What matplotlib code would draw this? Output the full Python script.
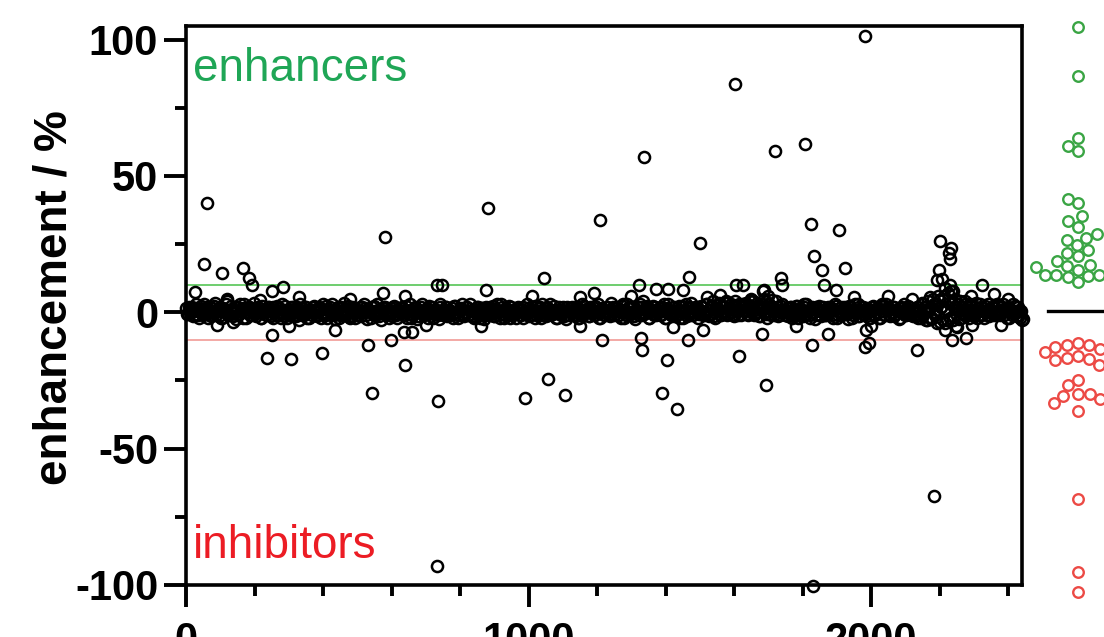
import numpy as np
import matplotlib
matplotlib.use('Agg')
import matplotlib.pyplot as plt

plt.rcParams['font.family'] = ['Liberation Sans', 'DejaVu Sans']
plt.rcParams['axes.unicode_minus'] = False

# screen band: enhancement of compounds 0, 5, 10, ... (most sit near zero)
band_step = 5
band_y = [
    1.5, -0.5, 2, 0.5, -1.5, 1, 3, -1, 0, 2.5, -1, 1, 0, -2, 2, 1.5, -1, 3.5, 0.5, -1.5, 2, -2, 1, 0, 4,
    -1, 2.5, 0, 1, -2.5, 2, -0.5, 0.5, 1.5, 3, -2, 0, 2, -1, 1, 0, -1.5, 2, 4.5, -2, 1, 0.5, -1, 2, 1,
    0, -2, 1, 2.5, -1, 0, 3, -1.5, 1, -2, 0.5, 2, 1, -1, 0, 2, -3, 1.5, 0, -1, 2, 1, -2, 0, 1,
    2, -1, 0.5, 1.5, -2, 3, 0, -1, 1, 2, -0.5, 0, -2.5, 1, 2, -1, 0.5, 3.5, -1, 0, 1.5, -2, 2, 0, -1,
    1, 0, -1.5, 2, 3, -1, 0.5, 1, -2, 0, 2.5, -1, 1, 0, -3, 1.5, 2, -0.5, 0, 1, -1.5, 2, 0.5, -2, 1,
    0, 2, -1, 1, -2, 0.5, 3, -1, 0, 1.5, -2.5, 1, 2, 0, -1, 1, -0.5, 2.5, 0, -2, 1, 0.5, -1, 3, 0,
    -1, 1, 2, -0.5, 0, 1.5, -2, 2.5, 0, -1, 1, 3, -1.5, 0, 2, -1, 0.5, 1, -2, 0, 2, -1, 1.5, 0, -2.5,
    2, 0, -1, 1, 2.5, -1.5, 0, 1, -2, 3, 0.5, -1, 1.5, 0, -2, 2, 1, -0.5, 0, 2, -1, 1, -2, 0.5, 3,
    0, -1, 2, 1, -2, 0.5, 1.5, -1, 3, 0, -1.5, 2, 1, -0.5, 0, 2.5, -2, 1, 0, -1, 2, 0.5, -2.5, 1, 0,
    1.5, -1, 0, 2, -2, 1, 3, -0.5, 0, 1, -1.5, 2, 0.5, -1, 2.5, 0, -2, 1, 1.5, -1, 0, 2, -1, 3.5, 0,
    -1, 2, 0.5, 1, -2, 3, 0, -1, 1.5, 2, -0.5, 0, -2.5, 1, 2, 3, -1, 0, 1, 2.5, -2, 0.5, 1, -1, 2,
    0, 1.5, -1, 2, 3, -2, 0.5, 1, -1, 0, 2, -1.5, 1, 2.5, 0, -2, 1, 3, -0.5, 0, 1.5, -1, 2, 0, -2,
    1, 2, -1, 0, 3, -1.5, 1, 2.5, 0, -2, 1.5, 3.5, -1, 0.5, 2, 4, -1, 1, 3, 0, -1.5, 2.5, 1, 3, -1,
    2, 0.5, 3.5, -1, 1, 2, 4, -0.5, 0, 2.5, -1.5, 1, 3, 0, -2, 1.5, 2, 4.5, -1, 0.5, 2, -1, 1, 3, 0,
    -1, 1.5, 0, 2, -2, 1, 2.5, -0.5, 0, 1, -1.5, 2, 3, 0.5, -1, 0, 1.5, -2.5, 2, 1, -1, 0, 2, -1, 1,
    0.5, 2, -1, 1, 3, -2, 0, 1.5, -1, 2, 0, -0.5, 2.5, 1, -2, 0, 1, 3, -1.5, 0.5, 2, -1, 1, 0, -2,
    1, 2.5, -1, 0, 1.5, -2, 3, 0.5, -1, 1, 2, -1.5, 0, 2, -0.5, 1, -2.5, 1.5, 0, 3, -1, 0.5, 2, -1, 1,
    0, -1.5, 2, 1, -2, 3, 0.5, -3, 4, 1, -2.5, 5, -1, 3, 6, -3.5, 2, 4.5, -4, 1, 7, -2, 3.5, -3, 5,
    2, -2.5, 4, 1, -1, 3, 0, -2, 2.5, 1, -1.5, 3.5, 0, -1, 2, 1.5, -2, 0.5, 3, -1, 1, 2, -0.5, 0, 2.5,
    -1, 1, 3, 0.5, -2, 2, 1, -1, 0, 2.5, -1.5, 1, -2, -3,
]
# compounds 2.5, 7.5, 12.5, ... (the ones in between)
band_y2 = [
    -0.5, 1, 0, 2, -1, 0.5, 1.5, -2, 1, 0, 3, -0.5, 2, 1, -1.5, 0, 2.5, -1, 1, 0.5, -2, 1.5, 0, 3, -1,
    1, 0, -1.5, 2, 0.5, -1, 3, 1, -2, 0, 1.5, 2, -1, 0.5, 3.5, -0.5, 1, 0, -2, 2.5, 0, -1, 1, 2, -1.5,
    2, 0.5, -1, 0, 1.5, -2, 1, 2.5, 0, -1, 1, -0.5, 2, 0, -1.5, 1, 3, -1, 0.5, 2, -2, 0, 1, -1, 2.5,
    0, -1.5, 2, 1, -0.5, 0, 2.5, -2, 1, 0.5, 3, -1, 0, 1.5, -2, 2, 0, -1, 1, 2.5, -1.5, 0.5, 1, -2, 0,
    -1, 2, 0.5, 0, 1.5, -2.5, 1, 0, 2, -1, 0.5, 3, -1.5, 0, 1, 2, -1, 0.5, -2, 1.5, 0, 2.5, -1, 1, 0,
    1.5, -1, 0, 2.5, -0.5, 1, -2, 0, 2, 1, -1.5, 0.5, 3, -1, 0, 1.5, -2, 1, 2, -0.5, 0, 1, -2.5, 2, 0.5,
    0, 2, -1.5, 1, 0.5, -1, 2.5, 0, -2, 1, 1.5, -0.5, 0, 2, -1, 3, 0.5, -1.5, 1, 0, 2, -2, 0.5, 1.5, -1,
    1, -0.5, 2, 0, -1.5, 1, 3, -1, 0.5, 2, -2, 0, 1, 2.5, -1, 0.5, 0, -2, 1.5, 1, -1, 2, 0, -0.5, 1.5,
    -1.5, 1, 0.5, 2.5, -1, 0, 2, -2, 1, 0, 1.5, -1, 3, 0.5, -0.5, 1, -2, 2, 0, 1, -1.5, 0.5, 2, -1, 0,
    2, -1, 0.5, 1, -2, 0, 2.5, -0.5, 1, 1.5, -1.5, 0, 2, -1, 0.5, 3, -2, 1, 0, -1, 2, 0.5, -1.5, 1, 2,
    0.5, 1.5, -1, 0, 2.5, -2, 1, 3, -0.5, 0, 2, -1.5, 1, 0.5, -1, 2, 4, -0.5, 1.5, 0, -2, 1, 2.5, 0, -1,
    1, -1, 2, 0.5, -2, 1.5, 3, 0, -1, 2, 0.5, -0.5, 1, -2, 2.5, 0, 1, -1.5, 2, 3.5, -1, 0, 1, 2, -0.5,
    2.5, 0, -1, 3, 1, -0.5, 2, 4, -1.5, 1, 0.5, 3, -1, 2, 0, 3.5, -0.5, 1.5, 2.5, -1, 4, 0.5, -1, 2, 3,
    1, 3, -0.5, 2, 4, 0, -1, 2.5, 3.5, -1.5, 1, 2, 5, -0.5, 0.5, 3, -1, 2, 1, 4, -1.5, 0, 2.5, 1, -1,
    0.5, -1.5, 2, 1, -0.5, 0, 2.5, -2, 1.5, 0, 3, -1, 0.5, 1, -2, 2, 0, -1, 1.5, 2.5, -1.5, 0.5, 1, -1, 2,
    0, 1.5, -2, 1, 2.5, -1, 0.5, 2, -0.5, 0, 1, -2.5, 2, 1, -1, 3, 0, -1.5, 1, 2, -0.5, 0, 1.5, -2, 1,
    2, -1, 0, 1.5, -2, 2.5, 0.5, -1, 3, 1, -0.5, 0, 2, -1.5, 1, 0.5, -2, 2, 1.5, -1, 0, 2.5, -0.5, 1, -1.5,
    1, 2, -2, 0.5, 3.5, -1, 2, -3, 1.5, 5.5, -2, 3, 0, -4, 4.5, 2, -2.5, 6, 1, -3, 3.5, 8, -1.5, 2, -5,
    3, 0.5, -2, 2, 4, -1, 1, 3, -0.5, 0, 2, -2, 1.5, 3, -1, 0.5, 2.5, 0, -1.5, 1, 2, -1, 0, 3, 0.5,
    0, 2, -1, 1.5, 0.5, -2, 1, 3, -0.5, 0, 2, -1, 0.5, -2.5,
]

# individual compounds away from the band (index, enhancement %)
hit_x = [26, 53, 60, 104, 167, 185, 194, 251, 284, 575, 581, 734, 746, 877, 881,
         1046, 1149, 1192, 1207, 1323, 1338, 1372, 1406, 1450, 1469, 1501, 1603, 1605,
         1625, 1683, 1688, 1718, 1736, 1739, 1807, 1824, 1834, 1856, 1863, 1897, 1907,
         1922, 1982, 2193, 2198, 2202, 2206, 2215, 2227, 2229, 2230, 2233, 2240, 2324, 2358,
         120, 330, 480, 640, 1010, 1300, 1520, 1560, 1650, 1700, 1950, 2050, 2120, 2290, 2400,
         137, 236, 251, 307, 396, 434, 531, 543, 597, 635, 639, 661, 732, 735, 989,
         1056, 1105, 1215, 1329, 1332, 1388, 1405, 1434, 1466, 1509, 1615, 1681, 1692,
         1827, 1830, 1875, 1982, 1984, 1994, 2133, 2182, 2215, 2235, 2278, 2294,
         90, 300, 700, 860, 1150, 1420, 1780, 2000, 2250, 2380]
hit_y = [7.3, 17.9, 40.1, 14.6, 16.1, 12.7, 10, 7.7, 9.3, 7, 27.6, 10, 10, 8.3, 38.4,
         12.7, 5.6, 7, 34, 9.9, 57, 8.7, 8.7, 8.3, 13, 25.4, 83.9, 9.9,
         10, 8, 8.3, 59, 12.7, 9.9, 61.9, 32.3, 20.7, 15.4, 10, 8.3, 30.1,
         16.4, 101.3, 12, 15.7, 26.2, 12.4, 9, 21.8, 19.6, 10, 23.7, 8, 10.2, 6.9,
         5, 5.5, 5, 6, 6, 6, 5.5, 6.5, 5, 6, 5.5, 6, 5, 6, 5,
         -3.5, -16.9, -8.3, -17.1, -14.8, -6.6, -12.1, -29.6, -10, -7.2, -19.2, -7.2, -93.2, -32.7, -31.6,
         -24.5, -30.2, -10, -9.3, -13.7, -29.6, -17.6, -35.6, -10, -6.6, -16.1, -8.1, -26.5,
         -12.1, -100.5, -7.8, -12.7, -6.6, -11.3, -13.9, -67.3, -6.6, -10, -9.3, -4.5,
         -4.5, -5, -4.5, -5, -5, -5.5, -5, -5, -5.5, -4.5]

cutoff = 10

band_x = np.arange(len(band_y)) * band_step
band_x2 = np.arange(len(band_y2)) * band_step + band_step / 2
all_y = np.concatenate([band_y, band_y2, hit_y])
enh = np.sort(all_y[all_y > cutoff])
inh = np.sort(all_y[all_y < -cutoff])[::-1]


def swarm_offsets(vals, scale, d):
    # simple beeswarm in pixel units, points closest to zero go first
    placed = []
    offs = np.zeros(len(vals))
    for i in np.argsort(np.abs(vals), kind='stable'):
        yi = vals[i] * scale
        cands = [0.0]
        for xj, yj in placed:
            dy = yi - yj
            if abs(dy) < d:
                dx = np.sqrt(d * d - dy * dy)
                cands += [xj - dx, xj + dx]
        cands.sort(key=abs)
        for c in cands:
            if all((c - xj) ** 2 + (yi - yj) ** 2 >= d * d - 1e-6 for xj, yj in placed):
                offs[i] = c
                break
        placed.append((offs[i], yi))
    return offs


fig = plt.figure(figsize=(11.04, 6.37), dpi=100)
W, H = 1104, 637
ax = fig.add_axes([186 / W, 52 / H, 836 / W, 559 / H])

ax.axhline(cutoff, color='#62c962', lw=1.3, zorder=1)
ax.axhline(-cutoff, color='#f2a39e', lw=1.3, zorder=1)

mk = dict(ls='none', marker='o', mfc='none', mec='black', ms=8, mew=1.8, clip_on=False, zorder=3)
ax.plot(band_x, band_y, **mk)
ax.plot(band_x2, band_y2, **mk)
ax.plot(hit_x, hit_y, **mk)

ax.set_xlim(0, 2440)
ax.set_ylim(-100, 105)
ax.set_xticks([0, 1000, 2000])
ax.set_xticks(np.arange(200, 2441, 200), minor=True)
ax.set_yticks([-100, -50, 0, 50, 100])
ax.set_yticks([-75, -25, 25, 75], minor=True)

for s in ax.spines.values():
    s.set_linewidth(2.6)
    s.set_zorder(4)
ax.tick_params(which='major', length=16, width=2.8, labelsize=30, pad=4)
ax.tick_params(which='minor', length=8, width=2.8)
ax.tick_params(axis='x', which='major', pad=10)
for lab in ax.get_xticklabels() + ax.get_yticklabels():
    lab.set_fontweight('bold')

ax.text(0.008, 0.962, 'enhancers', transform=ax.transAxes, color='#1fa656',
        fontsize=33, ha='left', va='top')
ax.text(0.008, 0.03, 'inhibitors', transform=ax.transAxes, color='#ec1c24',
        fontsize=33, ha='left', va='bottom')

fig.text(55 / W, 1 - 298 / H, 'enhancement / %', rotation=90, ha='center', va='center',
         fontsize=33, fontweight='bold')

# side panel: hits as a swarm, x in pixels around the centre
px_per_unit = 2.8
ax2 = fig.add_axes([1040 / W, 52 / H, 76 / W, 559 / H])
ax2.set_xlim(-38, 38)
ax2.set_ylim(-(585 - 311) / px_per_unit, (311 - 26) / px_per_unit)
ax2.axis('off')
ax2.axhline(0, xmin=8 / 76, xmax=1, color='black', lw=2.4)
ax2.plot(swarm_offsets(enh, px_per_unit, 11.5), enh, ls='none', marker='o', mfc='none',
         mec='#3aa544', ms=7.6, mew=1.7, clip_on=False)
ax2.plot(swarm_offsets(inh, px_per_unit, 11.5), inh, ls='none', marker='o', mfc='none',
         mec='#ec4a45', ms=7.6, mew=1.7, clip_on=False)

fig.savefig('out.png', dpi=100)
